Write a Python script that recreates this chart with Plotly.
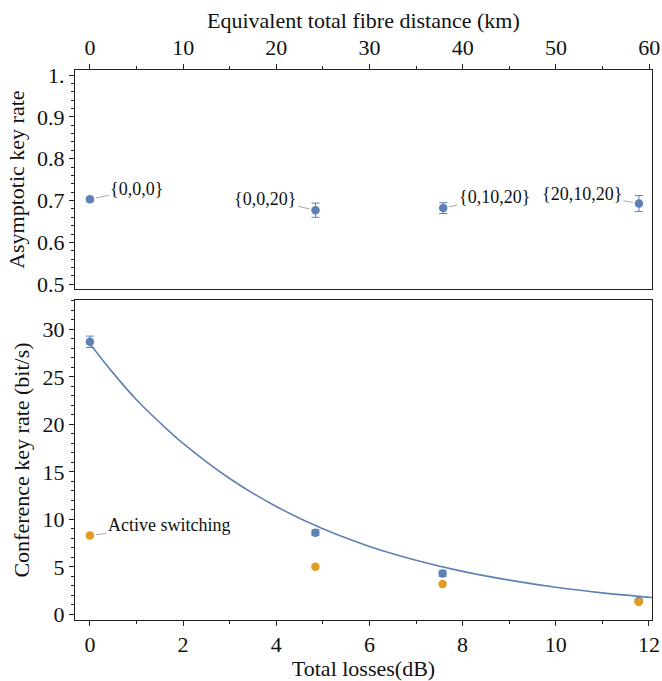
import plotly.graph_objects as go

# ---- data ----
fibre_km = [0, 24.2, 37.9, 58.9]
asym_rate = [0.703, 0.677, 0.682, 0.693]
asym_err = [0.005, 0.017, 0.013, 0.019]
config_labels = ["{0,0,0}", "{0,0,20}", "{0,10,20}", "{20,10,20}"]

losses_db = [0, 4.84, 7.57, 11.78]
conf_rate = [28.7, 8.6, 4.3, 1.4]
conf_err = [0.6, 0.3, 0.3, 0.2]
active_rate = [8.3, 5.0, 3.2, 1.3]

curve_db = [0, 0.5, 1, 1.5, 2, 3, 4, 5, 6, 7, 8, 9, 10, 11, 12.1]
curve_rate = [28.5, 25.4, 22.6, 20.2, 18.0, 14.3, 11.35, 9.0, 7.15, 5.7, 4.52, 3.6, 2.85, 2.26, 1.76]

BLUE = "#5E81B5"
ORANGE = "#E19C24"
FONT = "Liberation Serif, Times New Roman, serif"
TICK_SIZE = 22
TITLE_SIZE = 22
ANN_SIZE = 18

fig = go.Figure()

# top panel
fig.add_trace(go.Scatter(
    x=fibre_km, y=asym_rate, mode="markers",
    marker=dict(color=BLUE, size=8.5),
    error_y=dict(type="data", array=asym_err, color=BLUE, thickness=1, width=4),
    xaxis="x", yaxis="y", showlegend=False))

# bottom panel
fig.add_trace(go.Scatter(
    x=curve_db, y=curve_rate, mode="lines", line=dict(color=BLUE, width=1.6, shape="spline"),
    xaxis="x2", yaxis="y2", showlegend=False))
fig.add_trace(go.Scatter(
    x=losses_db, y=conf_rate, mode="markers",
    marker=dict(color=BLUE, size=8.5),
    error_y=dict(type="data", array=conf_err, color=BLUE, thickness=1, width=4),
    xaxis="x2", yaxis="y2", showlegend=False))
fig.add_trace(go.Scatter(
    x=losses_db, y=active_rate, mode="markers",
    marker=dict(color=ORANGE, size=8.5),
    xaxis="x2", yaxis="y2", showlegend=False))

axis_common = dict(showgrid=False, zeroline=False, showline=True, linecolor="#222",
                   linewidth=1, mirror=True, ticks="outside", ticklen=5, tickcolor="#222",
                   automargin=False,
                   tickfont=dict(family=FONT, size=TICK_SIZE, color="#111"))

fig.update_layout(
    width=662, height=681,
    margin=dict(l=75, r=10, t=70, b=61),
    paper_bgcolor="white", plot_bgcolor="white",
    font=dict(family=FONT, size=TITLE_SIZE, color="#111"),
    xaxis=dict(axis_common, domain=[0, 1], range=[-1.6, 60.3], side="top", anchor="y",
               tickmode="linear", tick0=0, dtick=10,
               minor=dict(ticks="outside", ticklen=3, dtick=5, tick0=0, tickcolor="#222")),
    yaxis=dict(axis_common, domain=[0.6013, 1], range=[0.488, 1.012], anchor="x",
               tickmode="array", tickvals=[0.5, 0.6, 0.7, 0.8, 0.9, 1.0],
               ticktext=["0.5", "0.6", "0.7", "0.8", "0.9", "1."],
               minor=dict(ticks="outside", ticklen=3, tickmode="linear", dtick=0.02, tick0=0.5,
                          tickcolor="#222"),
               title=dict(text="Asymptotic key rate", standoff=6,
                          font=dict(family=FONT, size=TITLE_SIZE))),
    xaxis2=dict(axis_common, domain=[0, 1], range=[-0.32, 12.065], anchor="y2",
                tickmode="linear", tick0=0, dtick=2,
                minor=dict(ticks="outside", ticklen=3, dtick=1, tick0=0, tickcolor="#222"),
                title=dict(text="Total losses(dB)", standoff=8,
                           font=dict(family=FONT, size=TITLE_SIZE))),
    yaxis2=dict(axis_common, domain=[0, 0.5818], range=[-0.6, 33.1], anchor="x2",
                tickmode="linear", tick0=0, dtick=5,
                minor=dict(ticks="outside", ticklen=3, dtick=1, tick0=0, tickcolor="#222"),
                title=dict(text="Conference key rate (bit/s)", standoff=6,
                           font=dict(family=FONT, size=TITLE_SIZE))),
)

# top axis title
fig.add_annotation(x=0.5, y=1.0909, xref="paper", yref="paper", showarrow=False,
                   text="Equivalent total fibre distance (km)", yanchor="middle",
                   font=dict(family=FONT, size=TITLE_SIZE, color="#111"))

# annotations
label_offsets = [(47, -10), (-50, -11), (51, -11), (-57, -10)]
for xv, yv, lab, (ax, ay) in zip(fibre_km, asym_rate, config_labels, label_offsets):
    fig.add_annotation(x=xv, y=yv, xref="x", yref="y", text=lab, showarrow=True,
                       arrowhead=0, arrowwidth=1, arrowcolor="#aaaaaa", ax=ax, ay=ay,
                       standoff=6, font=dict(family=FONT, size=ANN_SIZE, color="#111"))

fig.add_annotation(x=losses_db[0], y=active_rate[0], xref="x2", yref="y2",
                   text="Active switching", showarrow=True, arrowhead=0, arrowwidth=1,
                   arrowcolor="#aaaaaa", ax=79, ay=-10, standoff=6,
                   font=dict(family=FONT, size=ANN_SIZE, color="#111"))

fig.write_html("out.html",
               config={"displayModeBar": False},
               post_script="document.body.style.margin='0px';document.body.style.overflow='hidden';")
